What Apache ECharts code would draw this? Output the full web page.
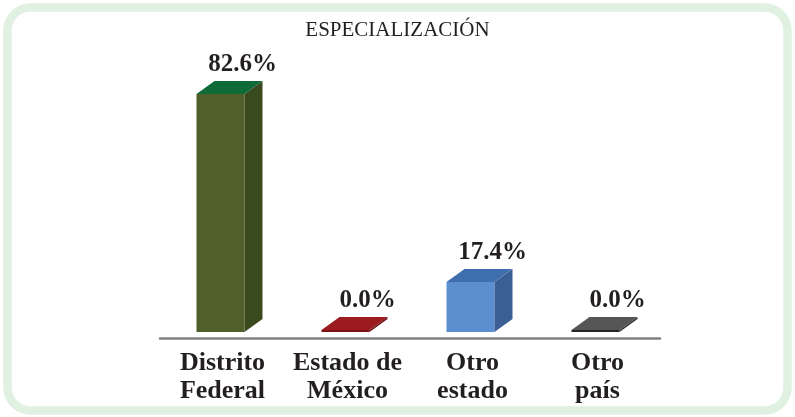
<!DOCTYPE html>
<html>
<head>
<meta charset="utf-8">
<script src="https://cdn.jsdelivr.net/npm/echarts@6/dist/echarts.min.js"></script>
<style>
html,body{margin:0;padding:0;background:#ffffff;}
#chart{width:795px;height:417px;}
</style>
</head>
<body>
<div id="chart"></div>
<script>
const title = 'ESPECIALIZACIÓN';
const categories = ['Distrito\nFederal', 'Estado de\nMéxico', 'Otro\nestado', 'Otro\npaís'];
const values = [82.6, 0.0, 17.4, 0.0];
const labels = ['82.6%', '0.0%', '17.4%', '0.0%'];

const faceColors = [
  { front: '#50602b', side: '#3a4a1f', top: '#0f6a37' },
  { front: '#7a1215', side: '#6a1012', top: '#9b1b1e' },
  { front: '#5b8fcf', side: '#3b5e95', top: '#3f6eaf' },
  { front: '#262626', side: '#333333', top: '#555555' }
];

const chart = echarts.init(document.getElementById('chart'), null, { renderer: 'canvas' });

function renderItem(params, api) {
  const idx = params.dataIndex;
  const v = api.value(1);
  const base = api.coord([api.value(0), 0]);
  const topP = api.coord([api.value(0), v]);
  const w = 48, dx = 18, dy = 13;
  const x0 = base[0] - 26;
  const yb = base[1];
  const yt = Math.min(topP[1], yb - 2);
  const c = faceColors[idx];
  return {
    type: 'group',
    children: [
      { type: 'rect', shape: { x: x0, y: yt, width: w, height: yb - yt }, style: { fill: c.front } },
      { type: 'polygon', shape: { points: [[x0 + w, yt], [x0 + w + dx, yt - dy], [x0 + w + dx, yb - dy], [x0 + w, yb]] }, style: { fill: c.side } },
      { type: 'polygon', shape: { points: [[x0, yt], [x0 + dx, yt - dy], [x0 + w + dx, yt - dy], [x0 + w, yt]] }, style: { fill: c.top } },
      { type: 'text', style: {
          text: labels[idx], x: x0 + 46, y: yt - dy - 4,
          align: 'center', verticalAlign: 'bottom',
          font: 'bold 25px "Liberation Serif", serif', fill: '#231f20'
        } }
    ]
  };
}

chart.setOption({
  animation: false,
  backgroundColor: '#ffffff',
  title: {
    text: title, left: 'center', top: 15,
    textStyle: { fontFamily: 'Liberation Serif', fontWeight: 'normal', fontSize: 21, color: '#231f20' }
  },
  graphic: [{
    type: 'rect', shape: { x: 7.5, y: 7.5, width: 780, height: 403, r: 23 },
    style: { fill: 'none', stroke: '#e0f1e2', lineWidth: 8.5 }, z: -1
  }],
  grid: { left: 160, right: 135, top: 44, bottom: 79 },
  xAxis: {
    type: 'category', data: categories,
    axisLine: { onZero: false, lineStyle: { color: '#808080', width: 2.5 } },
    axisTick: { show: false },
    axisLabel: {
      interval: 0, margin: 11, color: '#231f20', fontFamily: 'Liberation Serif',
      fontWeight: 'bold', fontSize: 26, lineHeight: 28
    }
  },
  yAxis: { type: 'value', min: -2.08, max: 100, show: false },
  series: [{
    type: 'custom', renderItem: renderItem,
    data: values.map((v, i) => [i, v])
  }]
});
</script>
</body>
</html>
